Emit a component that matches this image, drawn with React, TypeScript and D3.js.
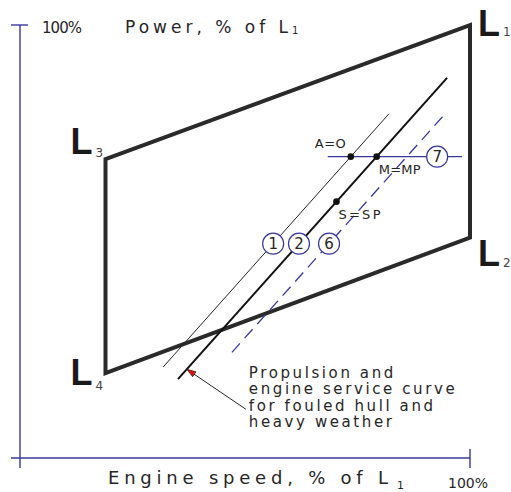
import React from "react";
import * as d3 from "d3";

// Layout diagram: engine speed vs power, both in % of L1
const W = 511;
const H = 492;

// Layout limit corners L1..L4 (speed %, power %)
const cornerNames = ["1", "2", "3", "4"];
const cornerSpeed = [100, 100, 19, 19];
const cornerPower = [100, 50.9, 69, 19.6];

// Propeller / service curves: 1 = light running, 2 = service, 6 = heavy running
const curveIds = ["1", "2", "6"];
const curveSpeedStart = [31.8, 35.1, 47.1];
const curvePowerStart = [21.0, 18.2, 24.4];
const curveSpeedEnd = [82.0, 94.9, 94.9];
const curvePowerEnd = [79.5, 87.8, 80.0];
const curveLabelPower = [49.5, 49.5, 49.5];

// Constant power line 7
const line7Power = 69.6;
const line7SpeedFrom = 68.4;
const line7SpeedTo = 98.2;
const line7LabelSpeed = 92.7;

// Named operating points
const pointLabels = ["A=O", "M=MP", "S=SP"];
const pointCurve = [0, 1, 1];
const pointPower = [69.6, 69.6, 59.2];

// Note on the service curve
const notePower = 20.5;
const noteLines = ["Propulsion and", "engine service curve", "for fouled hull and", "heavy weather"];

const BLUE = "#38389c";
const INK = "#262626";
const FONT = "'DejaVu Sans', 'Liberation Sans', sans-serif";

const x = d3.scaleLinear().domain([0, 100]).range([20, 470]);
const y = d3.scaleLinear().domain([0, 100]).range([458, 25]);

// speed on curve i at the given power
function speedAt(i: number, power: number) {
  const t = (power - curvePowerStart[i]) / (curvePowerEnd[i] - curvePowerStart[i]);
  return curveSpeedStart[i] + t * (curveSpeedEnd[i] - curveSpeedStart[i]);
}

export default function App() {
  const corners = cornerNames.map((n, i) => ({ n, px: x(cornerSpeed[i]), py: y(cornerPower[i]) }));
  const order = [0, 1, 3, 2];
  const box = d3.line<number>()
    .x((i) => corners[i].px)
    .y((i) => corners[i].py)
    .curve(d3.curveLinearClosed)(order) as string;

  // L label offsets relative to each corner
  const lOff = [
    { dx: 8, dy: 11, sx: 33, sy: 11 },
    { dx: 8, dy: 28, sx: 33, sy: 29 },
    { dx: -35, dy: -5, sx: -10, sy: -2 },
    { dx: -35, dy: 12, sx: -10, sy: 17 },
  ];

  const widths = [1, 2, 1.3];
  const colors = [INK, "#111", BLUE];
  const dashes = [undefined, undefined, "12 7"];

  // leader from the note to service curve 2
  const tipX = x(speedAt(1, notePower));
  const tipY = y(notePower);
  const endX = tipX + 59;
  const endY = tipY + 40;
  const ang = Math.atan2(endY - tipY, endX - tipX);
  const hl = 9;
  const hw = 3;
  const bx = tipX + Math.cos(ang) * hl;
  const by = tipY + Math.sin(ang) * hl;
  const head = `M${tipX},${tipY}L${bx - Math.sin(ang) * hw},${by + Math.cos(ang) * hw}L${bx + Math.sin(ang) * hw},${by - Math.cos(ang) * hw}Z`;

  return (
    <svg width={W} height={H} style={{ position: "absolute", left: 0, top: 0, background: "#fff" }}>
      {/* axes */}
      <g stroke={BLUE} strokeWidth={1.4} fill="none">
        <line x1={x(0)} y1={y(100)} x2={x(0)} y2={468} />
        <line x1={11} y1={y(100)} x2={28} y2={y(100)} />
        <line x1={11} y1={y(0)} x2={x(100)} y2={y(0)} />
        <line x1={x(100)} y1={449} x2={x(100)} y2={468} />
      </g>
      <g fontFamily={FONT} fill={INK}>
        <text x={42} y={33} fontSize={15} textLength={40} lengthAdjust="spacing">100%</text>
        <text x={125} y={33} fontSize={17} textLength={163} lengthAdjust="spacing">Power, % of L</text>
        <text x={292} y={34} fontSize={10}>1</text>
        <text x={108} y={484} fontSize={18} textLength={280} lengthAdjust="spacing">Engine speed, % of L</text>
        <text x={397} y={489} fontSize={11}>1</text>
        <text x={448} y={488} fontSize={14} textLength={40} lengthAdjust="spacing">100%</text>
      </g>

      {/* layout limits */}
      <path d={box} fill="none" stroke="#2a2a2a" strokeWidth={4} strokeLinejoin="miter" />
      {corners.map((c, i) => (
        <g key={c.n}>
          <text x={c.px + lOff[i].dx} y={c.py + lOff[i].dy} fontFamily="'Liberation Sans', Arial, sans-serif" fontWeight="bold" fontSize={36} fill="#1a1a1a">L</text>
          <text x={c.px + lOff[i].sx} y={c.py + lOff[i].sy} fontFamily={FONT} fontSize={12} fill="#444">{c.n}</text>
        </g>
      ))}

      {/* line 7 */}
      <line x1={x(line7SpeedFrom)} y1={y(line7Power)} x2={x(line7SpeedTo)} y2={y(line7Power)} stroke={BLUE} strokeWidth={1.3} />

      {/* curves */}
      {curveIds.map((id, i) => (
        <line key={id}
          x1={x(curveSpeedStart[i])} y1={y(curvePowerStart[i])}
          x2={x(curveSpeedEnd[i])} y2={y(curvePowerEnd[i])}
          stroke={colors[i]} strokeWidth={widths[i]} strokeDasharray={dashes[i]} />
      ))}

      {/* curve number bubbles */}
      {curveIds.map((id, i) => (
        <g key={"b" + id}>
          <circle cx={x(speedAt(i, curveLabelPower[i]))} cy={y(curveLabelPower[i])} r={10.5} fill="#fff" stroke={BLUE} strokeWidth={1.2} />
          <text x={x(speedAt(i, curveLabelPower[i]))} y={y(curveLabelPower[i])} dy="0.36em" textAnchor="middle" fontFamily={FONT} fontSize={15} fill={INK}>{id}</text>
        </g>
      ))}
      <circle cx={x(line7LabelSpeed)} cy={y(line7Power)} r={10.5} fill="#fff" stroke={BLUE} strokeWidth={1.2} />
      <text x={x(line7LabelSpeed)} y={y(line7Power)} dy="0.36em" textAnchor="middle" fontFamily={FONT} fontSize={15} fill={INK}>7</text>

      {/* operating points */}
      {pointLabels.map((lab, i) => {
        const px = x(speedAt(pointCurve[i], pointPower[i]));
        const py = y(pointPower[i]);
        const off = i === 0 ? { dx: -36, dy: -9, w: 31 } : { dx: 2, dy: 17, w: 42 };
        return (
          <g key={lab}>
            <circle cx={px} cy={py} r={3.3} fill="#111" />
            <text x={px + off.dx} y={py + off.dy} fontFamily={FONT} fontSize={13} fill={INK} textLength={off.w} lengthAdjust="spacing">{lab}</text>
          </g>
        );
      })}

      {/* note with leader */}
      <line x1={tipX} y1={tipY} x2={endX} y2={endY} stroke={INK} strokeWidth={1} />
      <path d={head} fill="#e01010" stroke="#222" strokeWidth={0.7} />
      <g fontFamily={FONT} fontSize={15} fill={INK} letterSpacing={2.6}>
        {noteLines.map((t, i) => (
          <text key={t} x={endX + 3} y={378 + i * 16.4}>{t}</text>
        ))}
      </g>
    </svg>
  );
}
